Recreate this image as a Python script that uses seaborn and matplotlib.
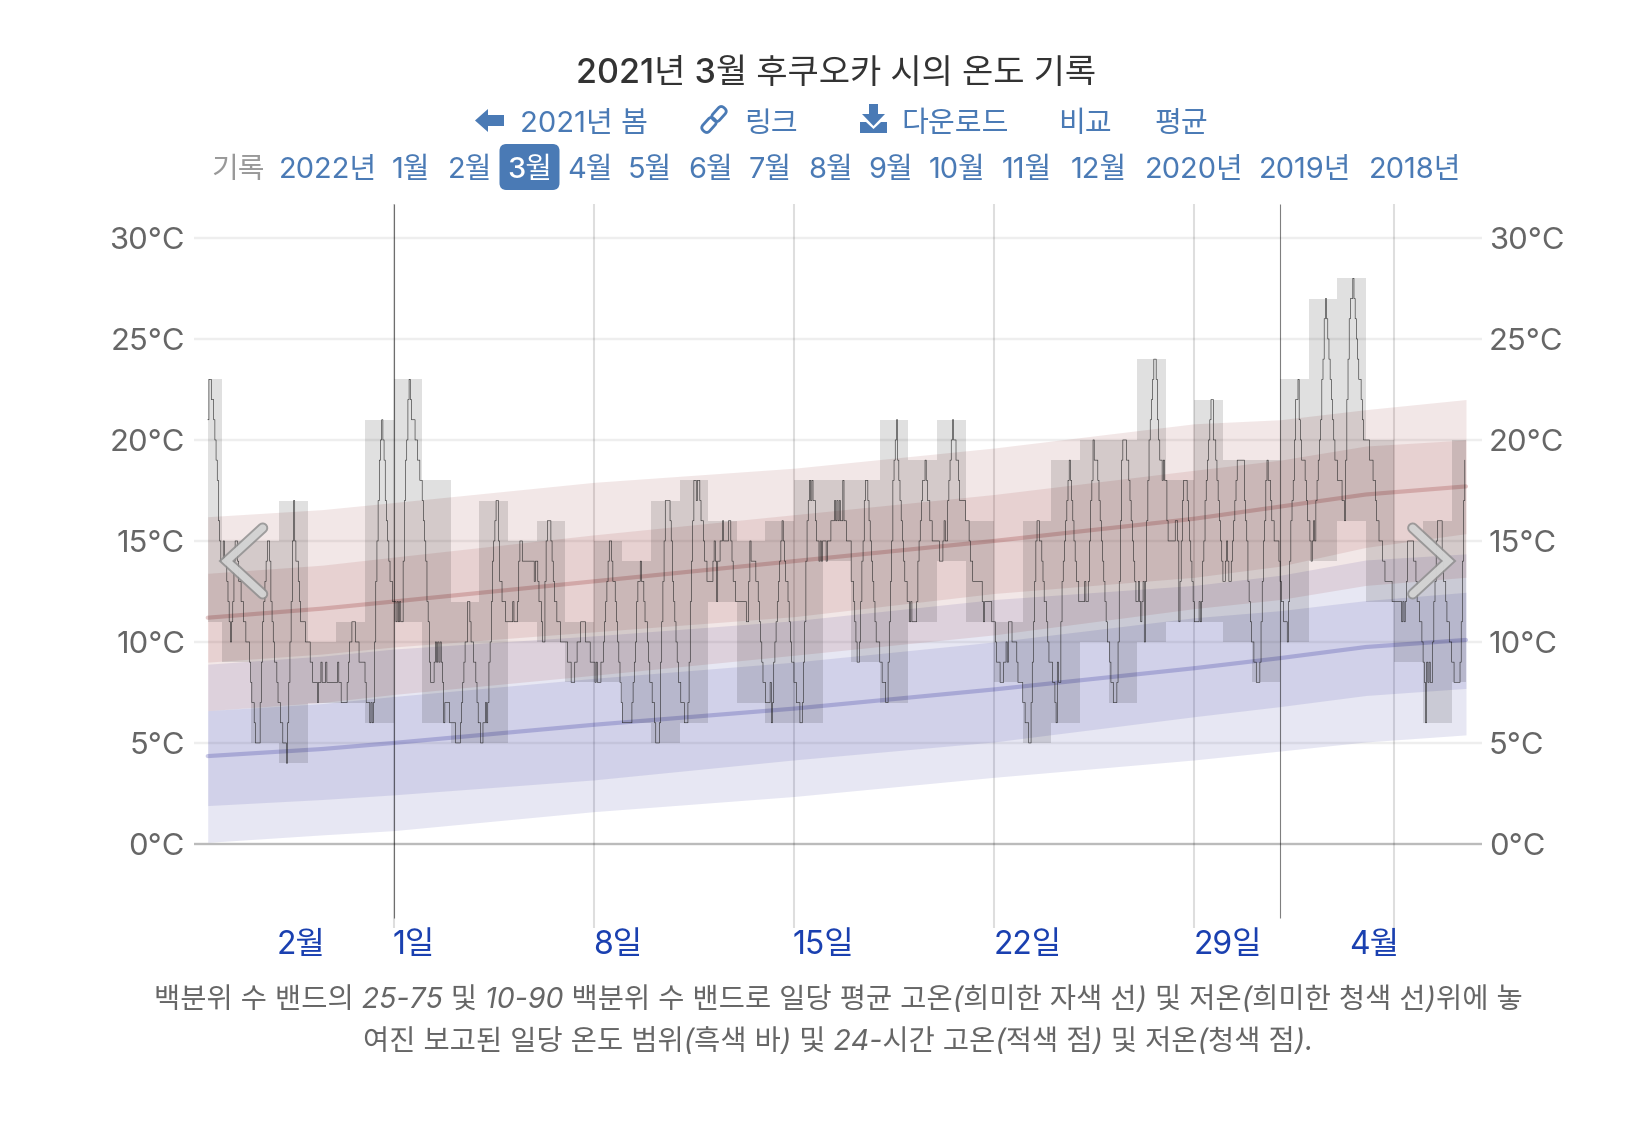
from matplotlib import pyplot as plt
from matplotlib.patches import FancyBboxPatch, Polygon, Rectangle
from matplotlib.transforms import Affine2D
import numpy as np
import pandas as pd
import seaborn as sns

# hourly temperature, noon Feb 22 to noon Apr 7
hourly_temps = [
    21, 23, 23, 22, 22, 21, 20, 19, 18, 16, 15, 14,
    14, 15, 14, 14, 13, 12, 11, 10, 11, 12, 14, 15, 15, 14, 13, 13, 12, 12, 11, 11, 10, 10, 10, 9,
    8, 7, 7, 6, 5, 5, 5, 5, 7, 9, 11, 12, 13, 14, 15, 15, 14, 12, 11, 10, 9, 9, 8, 7,
    7, 6, 6, 5, 5, 5, 4, 6, 8, 10, 12, 15, 17, 15, 14, 14, 13, 12, 11, 11, 11, 11, 10, 10,
    10, 10, 9, 9, 8, 8, 8, 8, 7, 8, 8, 9, 8, 8, 8, 9, 8, 8, 8, 8, 8, 8, 8, 8,
    8, 9, 8, 8, 7, 7, 7, 7, 7, 8, 9, 10, 10, 11, 11, 11, 10, 10, 10, 9, 9, 9, 9, 9,
    8, 7, 7, 7, 6, 7, 6, 7, 10, 13, 15, 17, 19, 20, 21, 20, 19, 17, 16, 15, 14, 13, 13, 12,
    12, 12, 11, 12, 11, 12, 11, 11, 14, 17, 19, 20, 22, 23, 22, 21, 21, 21, 20, 20, 19, 19, 18, 18,
    17, 16, 15, 14, 12, 11, 9, 8, 8, 8, 9, 10, 9, 10, 9, 10, 9, 8, 6, 7, 7, 7, 7, 6,
    6, 6, 6, 6, 5, 5, 5, 5, 6, 7, 8, 9, 10, 10, 12, 12, 11, 10, 10, 9, 9, 8, 7, 6,
    6, 5, 5, 6, 6, 7, 6, 7, 9, 10, 12, 14, 15, 16, 17, 17, 15, 13, 13, 12, 12, 12, 11, 11,
    11, 11, 11, 11, 12, 11, 11, 11, 12, 14, 15, 15, 14, 14, 14, 14, 14, 14, 14, 14, 14, 14, 13, 14,
    14, 13, 12, 12, 11, 10, 10, 13, 15, 16, 16, 16, 15, 14, 13, 12, 12, 11, 11, 11, 10, 10, 10, 10,
    10, 10, 9, 9, 9, 8, 8, 8, 9, 9, 10, 10, 10, 11, 11, 11, 11, 10, 10, 10, 10, 9, 9, 9,
    9, 8, 9, 8, 8, 8, 9, 9, 10, 11, 12, 13, 14, 15, 15, 14, 13, 13, 12, 11, 10, 9, 8, 7,
    6, 6, 6, 6, 6, 6, 6, 6, 7, 8, 9, 10, 12, 13, 13, 14, 13, 13, 12, 11, 11, 10, 9, 8,
    8, 7, 7, 6, 5, 5, 5, 6, 9, 11, 13, 15, 17, 17, 17, 17, 16, 15, 13, 12, 11, 10, 9, 8,
    8, 7, 7, 7, 6, 6, 6, 7, 9, 12, 14, 16, 18, 18, 17, 18, 18, 17, 16, 16, 15, 14, 14, 13,
    13, 13, 13, 13, 14, 15, 14, 12, 14, 14, 15, 15, 16, 15, 15, 15, 15, 16, 16, 15, 14, 13, 13, 12,
    12, 12, 12, 12, 12, 12, 12, 12, 11, 11, 13, 15, 14, 14, 14, 14, 13, 13, 12, 11, 10, 9, 8, 8,
    7, 7, 7, 7, 8, 6, 7, 9, 10, 11, 12, 13, 14, 15, 16, 15, 14, 13, 13, 12, 11, 10, 9, 9,
    8, 8, 7, 7, 7, 6, 6, 7, 9, 11, 14, 16, 17, 18, 17, 18, 17, 17, 16, 15, 15, 14, 15, 14,
    15, 15, 15, 14, 15, 15, 15, 16, 16, 16, 17, 16, 17, 16, 17, 16, 16, 18, 16, 16, 15, 15, 15, 15,
    13, 13, 12, 11, 10, 9, 9, 10, 12, 14, 15, 17, 18, 18, 17, 16, 15, 14, 13, 12, 11, 10, 10, 10,
    9, 9, 8, 8, 8, 7, 7, 9, 11, 13, 15, 18, 19, 20, 21, 19, 18, 17, 16, 15, 14, 13, 13, 12,
    12, 11, 12, 11, 11, 11, 11, 12, 14, 15, 16, 17, 18, 18, 19, 18, 17, 17, 16, 16, 15, 15, 15, 15,
    15, 15, 14, 14, 14, 15, 16, 15, 15, 17, 18, 19, 20, 21, 20, 20, 19, 19, 18, 17, 17, 17, 17, 17,
    16, 16, 16, 15, 14, 14, 13, 13, 13, 13, 13, 13, 13, 13, 12, 11, 12, 12, 12, 12, 12, 12, 11, 11,
    11, 10, 9, 9, 9, 8, 8, 8, 9, 9, 10, 9, 11, 11, 11, 10, 10, 10, 10, 9, 8, 8, 8, 8,
    7, 7, 6, 6, 6, 5, 5, 7, 9, 11, 13, 15, 16, 16, 15, 15, 14, 13, 12, 12, 11, 10, 9, 9,
    9, 8, 8, 7, 6, 9, 8, 8, 11, 13, 14, 15, 16, 17, 18, 19, 18, 17, 16, 15, 14, 13, 13, 12,
    12, 12, 12, 12, 13, 12, 12, 13, 15, 17, 18, 20, 19, 19, 19, 18, 17, 16, 15, 14, 13, 12, 11, 10,
    10, 9, 8, 8, 7, 7, 7, 8, 10, 13, 16, 19, 20, 20, 20, 19, 19, 18, 17, 16, 15, 14, 13, 12,
    12, 13, 12, 11, 12, 13, 10, 13, 16, 18, 20, 21, 22, 23, 24, 24, 23, 21, 20, 19, 19, 18, 19, 18,
    18, 16, 15, 15, 15, 15, 15, 15, 16, 16, 15, 11, 13, 15, 17, 18, 18, 18, 17, 16, 15, 14, 13, 12,
    11, 11, 11, 11, 12, 11, 12, 14, 15, 17, 18, 19, 20, 21, 22, 22, 20, 20, 19, 18, 17, 16, 15, 14,
    13, 13, 14, 15, 14, 13, 13, 14, 15, 16, 17, 18, 19, 19, 19, 19, 19, 19, 17, 16, 15, 13, 12, 11,
    10, 10, 9, 9, 8, 8, 8, 9, 11, 13, 15, 16, 18, 19, 18, 18, 17, 16, 16, 15, 15, 15, 15, 14,
    13, 12, 12, 11, 11, 11, 10, 12, 14, 16, 17, 18, 20, 22, 22, 23, 21, 20, 19, 19, 19, 18, 17, 16,
    16, 15, 14, 15, 16, 15, 17, 18, 19, 20, 21, 23, 24, 26, 27, 26, 25, 24, 23, 22, 21, 20, 19, 19,
    18, 18, 18, 18, 17, 17, 16, 19, 22, 24, 26, 27, 27, 28, 27, 26, 25, 24, 23, 23, 22, 21, 20, 20,
    20, 20, 20, 19, 19, 19, 18, 18, 17, 16, 16, 15, 15, 15, 14, 14, 13, 13, 13, 13, 13, 13, 12, 12,
    12, 12, 12, 12, 12, 12, 11, 12, 11, 12, 13, 15, 15, 15, 15, 15, 14, 14, 13, 12, 12, 11, 11, 10,
    9, 8, 6, 9, 8, 9, 8, 8, 10, 12, 13, 15, 16, 16, 16, 16, 14, 13, 13, 12, 11, 11, 10, 10,
    9, 9, 8, 8, 8, 8, 8, 9, 11, 14, 17, 19,
]

# daily range, Feb 22 to Apr 7
daily_highs = [23, 15, 15, 17, 10, 11, 21, 23, 18, 12, 17, 15, 16, 11, 15, 14, 17, 18, 16, 15, 16, 18, 18,
               18, 21, 19, 21, 16, 11, 16, 19, 20, 20, 24, 18, 22, 19, 19, 23, 27, 28, 20, 15, 16, 20]
daily_lows = [11, 9, 5, 4, 7, 7, 6, 11, 6, 5, 5, 11, 10, 8, 8, 6, 5, 6, 12, 7, 6, 6, 14,
              9, 7, 11, 14, 11, 8, 5, 6, 10, 7, 10, 11, 11, 10, 8, 10, 14, 16, 12, 9, 6, 8]

# climatology, days counted from Mar 1
normal_days = [-6.5, -2.5, 0, 7, 14, 21, 28, 31, 34, 37.5]
high_p90 = [16.2, 16.55, 16.9, 17.9, 18.6, 19.6, 20.8, 21.0, 21.5, 22.0]
high_p75 = [13.4, 13.8, 14.2, 15.3, 16.3, 17.3, 18.5, 19.0, 19.7, 20.0]
high_mean = [11.2, 11.65, 12.0, 13.0, 14.0, 15.0, 16.1, 16.7, 17.3, 17.7]
high_p25 = [9.0, 9.4, 9.75, 10.5, 11.25, 12.4, 13.2, 13.75, 14.68, 15.36]
high_p10 = [6.6, 7.0, 7.4, 8.35, 9.34, 10.35, 11.65, 12.1, 12.8, 13.2]
low_p90 = [8.9, 9.3, 9.65, 10.3, 11.05, 12.1, 12.8, 13.3, 14.06, 14.36]
low_p75 = [6.6, 6.95, 7.3, 8.2, 9.0, 10.0, 11.2, 11.55, 12.05, 12.46]
low_mean = [4.35, 4.7, 5.0, 5.9, 6.7, 7.65, 8.7, 9.2, 9.75, 10.1]
low_p25 = [1.9, 2.2, 2.43, 3.17, 4.16, 5.05, 6.3, 6.8, 7.35, 7.7]
low_p10 = [0.08, 0.45, 0.66, 1.6, 2.35, 3.3, 4.16, 4.6, 5.05, 5.4]

y_ticks = [0, 5, 10, 15, 20, 25, 30]
week_days = [0, 7, 14, 21, 28, 35]
month_days = [0, 31]

title = '2021년 3월 후쿠오카 시의 온도 기록'
nav_links = ['2021년 봄', '링크', '다운로드', '비교', '평균']
nav_x = [520, 744, 901, 1058, 1154]
months = ['2022년', '1월', '2월', '3월', '4월', '5월', '6월', '7월', '8월', '9월', '10월', '11월', '12월',
          '2020년', '2019년', '2018년']
months_x = [279, 392, 448, 507, 567, 628, 688, 749, 808, 868, 929, 1002, 1071, 1145, 1259, 1369]
x_labels = ['2월', '1일', '8일', '15일', '22일', '29일', '4월']
x_labels_x = [277, 393, 593, 793, 994, 1194, 1349]
caption = ['백분위 수 밴드의 25-75 및 10-90 백분위 수 밴드로 일당 평균 고온(희미한 자색 선) 및 저온(희미한 청색 선)위에 놓',
           '여진 보고된 일당 온도 범위(흑색 바) 및 24-시간 고온(적색 점) 및 저온(청색 점).']

BLUE = '#4a7ab5'
RED_BAND = (0.58, 0.18, 0.18)
BLUE_BAND = (0.18, 0.18, 0.61)


def main():
    sns.set_style('white')
    plt.rcParams['font.family'] = ['Inter', 'Noto Sans CJK KR', 'DejaVu Sans']

    fig = plt.figure(figsize=(16.52, 11.32), dpi=100)
    ax = fig.add_axes([194 / 1652, 1 - 928 / 1132, (1482 - 194) / 1652, (928 - 204) / 1132])
    ax.set_xlim(-6.98, 38.06)
    ax.set_ylim(-4.16, 31.68)
    ax.axis('off')

    for y in y_ticks:
        ax.axhline(y, color='#bbbbbb' if y == 0 else '#eeeeee', lw=1.7, zorder=1)
    ax.vlines(week_days, -4.16, 31.68, color='black', alpha=0.13, lw=1.5, zorder=1)
    ax.vlines(month_days, -3.66, 31.68, color='black', alpha=0.5, lw=0.8, zorder=6)

    for low, high in [(low_p10, low_p90), (low_p25, low_p75), (high_p10, high_p90), (high_p25, high_p75)]:
        color = RED_BAND if low is high_p10 or low is high_p25 else BLUE_BAND
        ax.fill_between(normal_days, low, high, color=color, alpha=0.115, lw=0, zorder=2)

    normals = pd.DataFrame({'day': normal_days, 'high': high_mean, 'low': low_mean})
    sns.lineplot(data=normals, x='day', y='high', color=RED_BAND, alpha=0.25, lw=3, ax=ax, zorder=3)
    sns.lineplot(data=normals, x='day', y='low', color=BLUE_BAND, alpha=0.25, lw=3, ax=ax, zorder=3)

    # daily bars, first and last are cut at the data edge
    day_starts = np.arange(len(daily_highs)) - 7
    bars = ax.bar(day_starts, np.array(daily_highs) - np.array(daily_lows), width=1, bottom=daily_lows,
                  align='edge', color='black', alpha=0.12, lw=0, zorder=4)
    clip = Rectangle((-6.5, -5), 44, 40, transform=ax.transData)
    for bar in bars:
        bar.set_clip_path(clip)

    hourly = pd.DataFrame({'day': -6.5 + np.arange(len(hourly_temps)) / 24, 'temp': hourly_temps})
    sns.lineplot(data=hourly, x='day', y='temp', color='#222222', lw=0.45, alpha=0.9, drawstyle='steps-post',
                 estimator=None, ax=ax, zorder=5)

    # overlay in pixels for the page text and icons
    top = fig.add_axes([0, 0, 1, 1], facecolor='none')
    top.set_xlim(0, 1652)
    top.set_ylim(1132, 0)
    top.axis('off')

    top.text(836, 74, title, ha='center', va='center', fontsize=24.5, color='#333333', weight='medium')

    for text, x in zip(nav_links, nav_x):
        top.text(x, 124, text, va='center', fontsize=21, color=BLUE)

    # back arrow
    top.add_patch(Polygon([(475, 120.5), (488, 109), (488, 115), (504, 115), (504, 126), (488, 126), (488, 132)],
                          color=BLUE, lw=0))
    # link icon
    for cx, cy in [(709, 125), (719, 114)]:
        rot = Affine2D().rotate_deg_around(cx, cy, -48) + top.transData
        top.add_patch(FancyBboxPatch((cx - 8, cy - 4.5), 16, 9, boxstyle='round,pad=0,rounding_size=4',
                                     fc='none', ec=BLUE, lw=2, transform=rot))
    # download icon
    top.add_patch(Polygon([(869, 104), (878, 104), (878, 114), (885, 114), (873.5, 126), (862, 114), (869, 114)],
                          color=BLUE, lw=0))
    top.add_patch(Polygon([(860, 122), (866, 122), (873.5, 129), (881, 122), (887, 122), (887, 133), (860, 133)],
                          color=BLUE, lw=0))

    top.text(211, 171, '기록', va='center', fontsize=20.9, color='#999999')
    top.add_patch(FancyBboxPatch((499.5, 144), 60, 46, boxstyle='round,pad=0,rounding_size=7', fc=BLUE, lw=0))
    for text, x in zip(months, months_x):
        top.text(x, 171, text, va='center', fontsize=20.9, color='white' if text == '3월' else BLUE,
                 weight='medium' if text == '3월' else 'normal')

    for y in y_ticks:
        py = 844 - y * 20.2 + 3
        top.text(185, py, f'{y}°C', ha='right', va='center', fontsize=22.3, color='#666666')
        top.text(1489, py, f'{y}°C', ha='left', va='center', fontsize=22.3, color='#666666')

    for text, x in zip(x_labels, x_labels_x):
        top.text(x, 945, text, va='center', fontsize=23, color='#1a40b0')

    for i, line in enumerate(caption):
        top.text(838, 1000 + i * 42, line, ha='center', va='center', fontsize=20.5, color='#666666', style='italic')

    # prev / next chevrons
    for arm_x, tip_x in [(262.7, 226.7), (1412.7, 1448.3)]:
        top.plot([arm_x, tip_x, arm_x], [528, 561, 594], color='#909090', alpha=0.85, lw=8,
                 solid_capstyle='round', solid_joinstyle='miter')
        top.plot([arm_x, tip_x, arm_x], [528, 561, 594], color='#dddddd', alpha=0.85, lw=5.2,
                 solid_capstyle='round', solid_joinstyle='miter')

    fig.savefig('out.png', dpi=100)


if __name__ == "__main__":
    main()
